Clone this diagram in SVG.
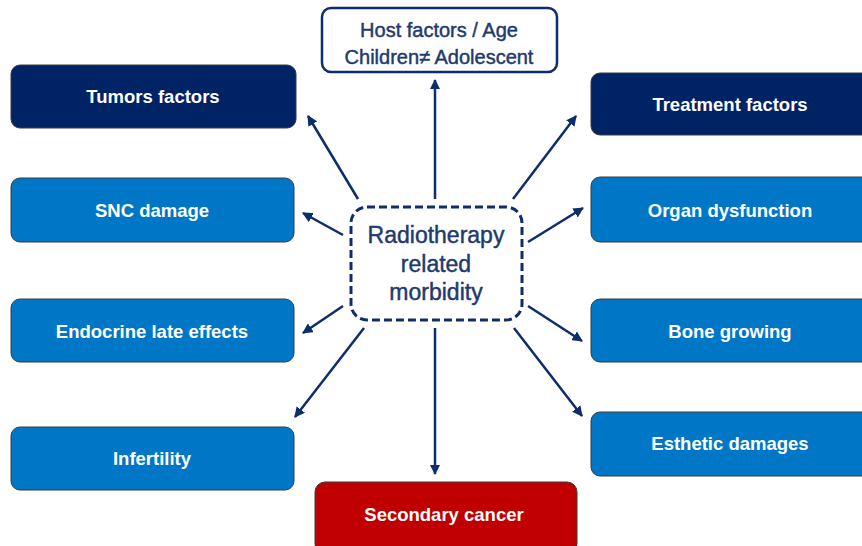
<svg xmlns="http://www.w3.org/2000/svg" width="862" height="546" viewBox="0 0 862 546">
  <style>
    .box { stroke: #3a3a3a; stroke-width: 1; }
    .navy { fill: #002366; }
    .blue { fill: #0077C6; }
    .red { fill: #C00000; }
    .label { font-family: "Liberation Sans", Arial, sans-serif; font-weight: bold; font-size: 18.5px; fill: #ffffff; text-anchor: middle; }
    .dark { font-family: "Liberation Sans", Arial, sans-serif; fill: #1F3A6E; stroke: #1F3A6E; stroke-width: 0.45; text-anchor: middle; }
    .conn { stroke: #0D2D6C; stroke-width: 2.5; fill: none; marker-end: url(#head); }
  </style>
  <defs>
    <marker id="head" viewBox="0 0 10 10" refX="9" refY="5" markerWidth="4.2" markerHeight="4.2" orient="auto" markerUnits="strokeWidth">
      <path d="M0,0 L10,5 L0,10 Z" fill="#0D2D6C"/>
    </marker>
  </defs>
  <rect width="862" height="546" fill="#ffffff"/>

  <!-- connectors radiating from the centre -->
  <g id="connectors">
    <line class="conn" x1="435" y1="199" x2="435" y2="80"/>
    <line class="conn" x1="358" y1="199" x2="308" y2="116"/>
    <line class="conn" x1="513" y1="199" x2="576" y2="116"/>
    <line class="conn" x1="343" y1="235" x2="303" y2="213"/>
    <line class="conn" x1="528" y1="242" x2="583" y2="208"/>
    <line class="conn" x1="343" y1="306" x2="303" y2="333"/>
    <line class="conn" x1="364" y1="328" x2="295" y2="417"/>
    <line class="conn" x1="435" y1="328" x2="435" y2="474"/>
    <line class="conn" x1="528" y1="306" x2="582" y2="341"/>
    <line class="conn" x1="514" y1="328" x2="582" y2="416"/>
  </g>

  <g id="center">
    <rect x="351" y="207" width="171" height="113" rx="16" fill="#ffffff" stroke="#0D2D6C" stroke-width="3" stroke-dasharray="8 4"/>
    <text class="dark" font-size="23" x="436" y="243">Radiotherapy</text>
    <text class="dark" font-size="23" x="436" y="272">related</text>
    <text class="dark" font-size="23" x="436" y="300">morbidity</text>
  </g>

  <g id="host">
    <rect x="322" y="8" width="235" height="64" rx="9" fill="#ffffff" stroke="#0D2D6C" stroke-width="2.5"/>
    <text class="dark" font-size="20" x="439" y="37">Host factors / Age</text>
    <text class="dark" font-size="20" x="439" y="64">Children≠ Adolescent</text>
  </g>

  <g id="tumors">
    <rect class="box navy" x="11" y="65" width="285" height="63" rx="9"/>
    <text class="label" x="153" y="103">Tumors factors</text>
  </g>
  <g id="snc">
    <rect class="box blue" x="11" y="178" width="283" height="64" rx="9"/>
    <text class="label" x="152" y="217">SNC damage</text>
  </g>
  <g id="endocrine">
    <rect class="box blue" x="11" y="299" width="283" height="63" rx="9"/>
    <text class="label" x="152" y="338">Endocrine late effects</text>
  </g>
  <g id="infertility">
    <rect class="box blue" x="11" y="427" width="283" height="63" rx="9"/>
    <text class="label" x="152" y="465">Infertility</text>
  </g>

  <g id="treatment">
    <rect class="box navy" x="591" y="73" width="285" height="62" rx="9"/>
    <text class="label" x="730" y="111">Treatment factors</text>
  </g>
  <g id="organ">
    <rect class="box blue" x="591" y="177" width="285" height="65" rx="9"/>
    <text class="label" x="730" y="217">Organ dysfunction</text>
  </g>
  <g id="bone">
    <rect class="box blue" x="591" y="299" width="285" height="63" rx="9"/>
    <text class="label" x="730" y="338">Bone growing</text>
  </g>
  <g id="esthetic">
    <rect class="box blue" x="591" y="412" width="285" height="64" rx="9"/>
    <text class="label" x="730" y="450">Esthetic damages</text>
  </g>

  <g id="secondary">
    <rect class="box red" x="315" y="482" width="262" height="72" rx="10"/>
    <text class="label" x="444" y="521">Secondary cancer</text>
  </g>
</svg>
